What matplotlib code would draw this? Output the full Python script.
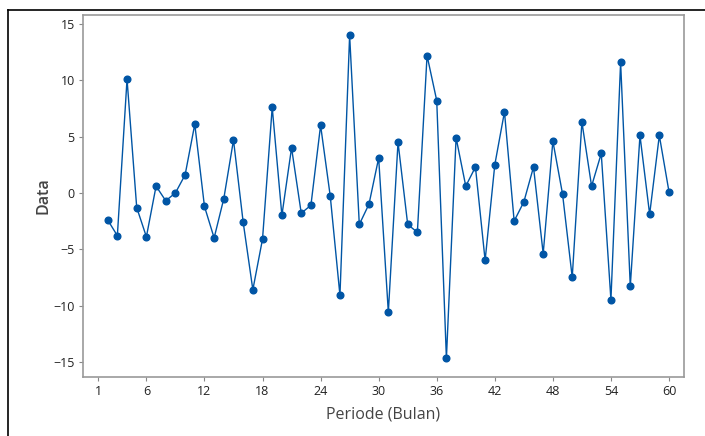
import matplotlib.pyplot as plt
from matplotlib.lines import Line2D
import numpy as np

plt.rcParams['font.family'] = ['Open Sans', 'DejaVu Sans']

periode = np.arange(2, 61)
data = [-2.4, -3.8, 10.1, -1.3, -3.9, 0.6, -0.7, 0.0, 1.6, 6.1,
        -1.2, -4.0, -0.5, 4.7, -2.6, -8.6, -4.1, 7.6, -2.0, 4.0,
        -1.8, -1.1, 6.0, -0.3, -9.1, 14.0, -2.8, -1.0, 3.1, -10.6,
        4.5, -2.8, -3.5, 12.2, 8.2, -14.7, 4.9, 0.6, 2.3, -6.0,
        2.5, 7.2, -2.5, -0.8, 2.3, -5.4, 4.6, -0.1, -7.5, 6.3,
        0.6, 3.5, -9.5, 11.6, -8.3, 5.1, -1.9, 5.1, 0.1]
xticks = [1, 6, 12, 18, 24, 30, 36, 42, 48, 54, 60]
yticks = [-15, -10, -5, 0, 5, 10, 15]

fig = plt.figure(figsize=(7.05, 4.36), dpi=100)
ax = fig.add_axes([83/705, 1 - 377/436, (684-83)/705, (377-15)/436])

ax.plot(periode, data, color='#0055a5', linewidth=1.0, marker='o',
        markersize=4.8, markerfacecolor='#0055a5', markeredgecolor='#0055a5')

ax.set_xlim(-0.55, 61.55)
ax.set_ylim(-16.35, 15.8)
ax.set_xticks(xticks)
ax.set_yticks(yticks)
ax.tick_params(axis='both', direction='out', length=3, width=0.8,
               color='#888888', labelsize=9, labelcolor='#222222', pad=3)
for s in ax.spines.values():
    s.set_color('#999999')
    s.set_linewidth(1.2)

ax.set_xlabel('Periode (Bulan)', fontsize=11.5, color='#444444', labelpad=6)
ax.set_ylabel('Data', fontsize=11.5, color='#444444', fontweight='semibold')
ax.yaxis.set_label_coords(-0.053, 0.5)

# outer border lines of the original screenshot
fig.add_artist(Line2D([8/705, 8/705], [0, 1 - 10/436], transform=fig.transFigure,
                      color='black', linewidth=1.2))
fig.add_artist(Line2D([8/705, 1], [1 - 10/436, 1 - 10/436], transform=fig.transFigure,
                      color='black', linewidth=1.2))

fig.savefig('out.png', dpi=100)
